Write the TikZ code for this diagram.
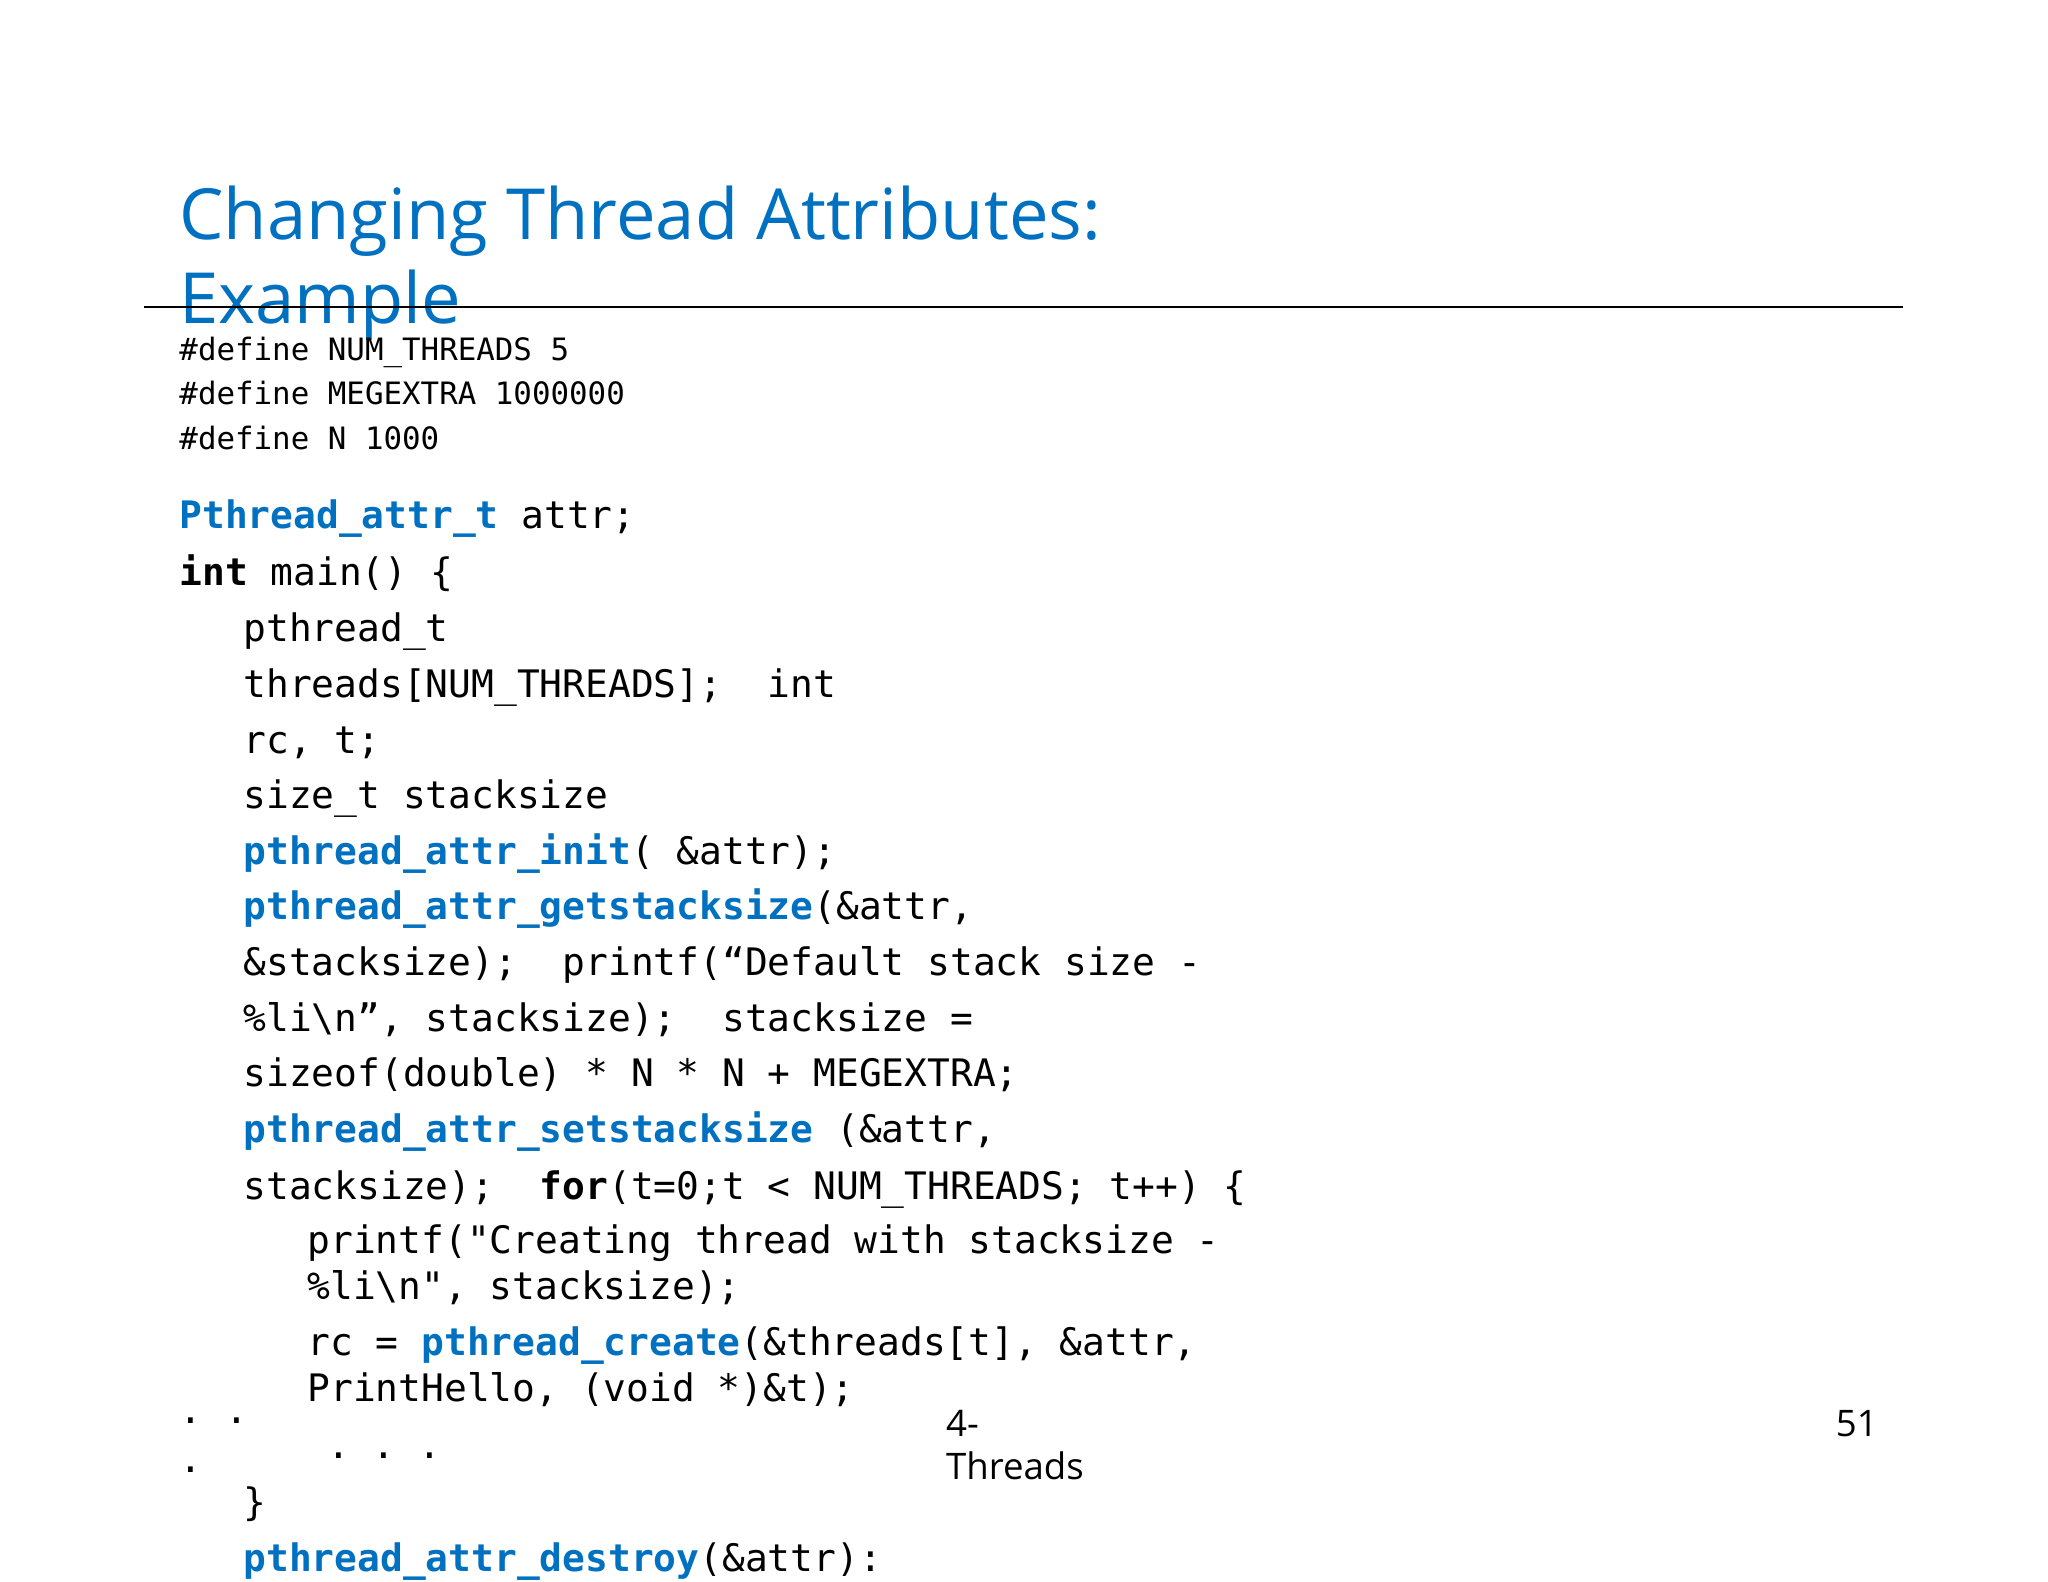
\documentclass[tikz,border=0pt]{standalone}
\usepackage{fontspec}
\setmainfont{Open Sans}
\setmonofont{DejaVu Sans Mono}
\definecolor{tblue}{HTML}{0070C0}
\newcommand{\kw}[1]{\textbf{\color{tblue}#1}}
\begin{document}
\begin{tikzpicture}[x=0.5pt,y=-0.5pt,
  code/.style={anchor=base west,inner sep=0pt,font=\fontsize{14.5}{17}\ttfamily},
  def/.style={anchor=base west,inner sep=0pt,font=\fontsize{11.8}{14}\ttfamily},
  foot/.style={anchor=base west,inner sep=0pt,font=\fontsize{14}{17}\selectfont}]
\useasboundingbox[fill=white] (0,0) rectangle (1568,1211);
\node[anchor=base west,inner sep=0pt,text=tblue,font=\fontsize{27}{32}\selectfont] (t1) at (137,183) {Changing Thread Attributes:};
\node[anchor=base west,inner sep=0pt,text=tblue,font=\fontsize{27}{32}\selectfont] (t2) at (137,248) {Example};
\coordinate (la) at (110,235); \coordinate (lb) at (1457,235);
\draw[line width=0.8pt] (la) -- (lb);
\node[def] (d1) at (137,276) {\#define NUM\_THREADS 5};
\node[def] (d2) at (137,310) {\#define MEGEXTRA 1000000};
\node[def] (d3) at (137,344) {\#define N 1000};
\node[code] (c1) at (137,405) {\kw{Pthread\_attr\_t} attr;};
\node[code] (c2) at (137,448) {\textbf{int} main() \{};
\node[code] (c3) at (186,491) {pthread\_t};
\node[code] (c4) at (186,534) {threads[NUM\_THREADS];\ \ int};
\node[code] (c5) at (186,577) {rc, t;};
\node[code] (c6) at (186,619) {size\_t stacksize};
\node[code] (c7) at (186,662) {\kw{pthread\_attr\_init}( \&attr);};
\node[code] (c8) at (186,704) {\kw{pthread\_attr\_getstacksize}(\&attr,};
\node[code] (c9) at (186,747) {\&stacksize);\ \ printf(“Default stack size -};
\node[code] (c10) at (186,790) {\%li\textbackslash n”, stacksize);\ \ stacksize =};
\node[code] (c11) at (186,832) {sizeof(double) * N * N + MEGEXTRA;};
\node[code] (c12) at (186,875) {\kw{pthread\_attr\_setstacksize} (\&attr,};
\node[code] (c13) at (186,918) {stacksize);\ \ \textbf{for}(t=0;t < NUM\_THREADS; t++) \{};
\node[code] (c14) at (235,960) {printf("Creating thread with stacksize -};
\node[code] (c15) at (235,995) {\%li\textbackslash n", stacksize);};
\node[code] (c16) at (235,1038) {rc = \kw{pthread\_create}(\&threads[t], \&attr,};
\node[code] (c17) at (235,1073) {PrintHello, (void *)\&t);};
\node[code] (dots1) at (137,1090) {. .};
\node[code] (dots2) at (137,1127) {.};
\node[code] (dots3) at (250,1117) {. . .};
\node[code] (c18) at (186,1160) {\}};
\node[code] (c19) at (186,1203) {\kw{pthread\_attr\_destroy}(\&attr):};
\node[foot] (f1) at (724,1100) {4-};
\node[foot] (f2) at (724,1133) {Threads};
\node[foot,anchor=base east] (f3) at (1438,1100) {51};
\end{tikzpicture}
\end{document}
